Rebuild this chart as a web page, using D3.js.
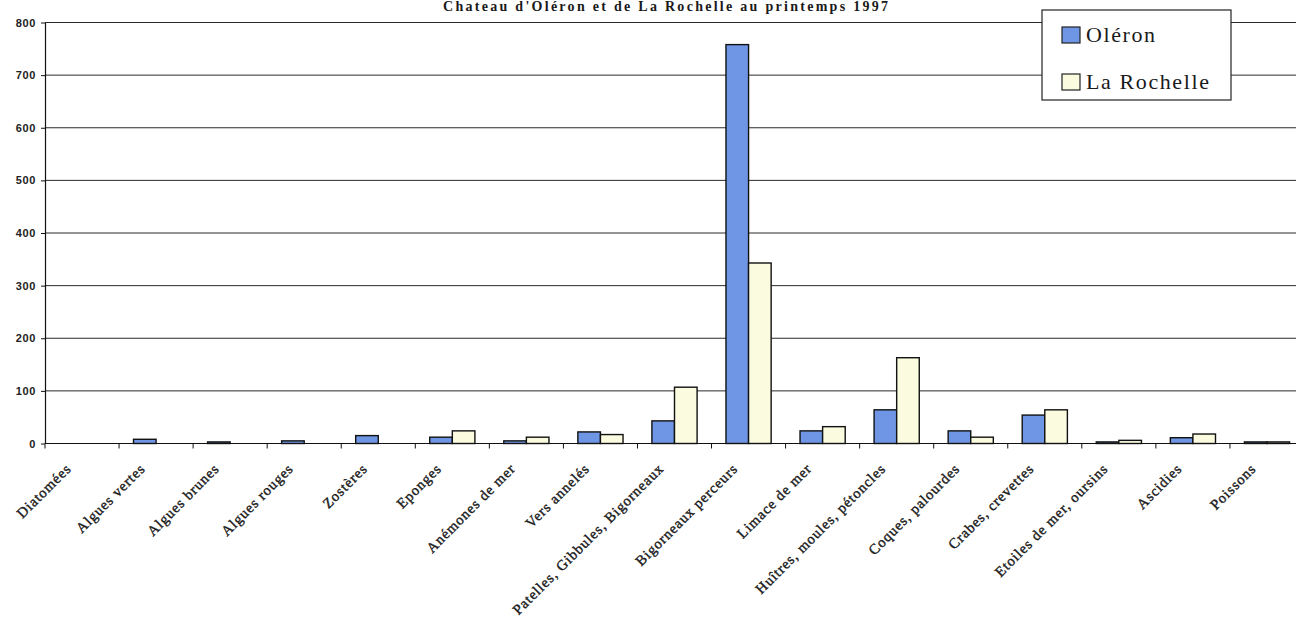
<!DOCTYPE html>
<html>
<head>
<meta charset="utf-8">
<script src="https://cdn.jsdelivr.net/npm/d3@7/dist/d3.min.js"></script>
<style>
  html, body { margin: 0; padding: 0; background: #fff; }
  svg { display: block; }
</style>
</head>
<body>
<svg id="chart" width="1296" height="624"></svg>
<script>
// Species groups observed on the shore
const categories = [
  "Diatomées", "Algues vertes", "Algues brunes", "Algues rouges", "Zostères",
  "Eponges", "Anémones de mer", "Vers annelés", "Patelles, Gibbules, Bigorneaux",
  "Bigorneaux perceurs", "Limace de mer", "Huîtres, moules, pétoncles",
  "Coques, palourdes", "Crabes, crevettes", "Etoiles de mer, oursins",
  "Ascidies", "Poissons"
];
const seriesNames = ["Oléron", "La Rochelle"];
const oleron   = [0, 8, 3, 5, 15, 12, 5, 22, 43, 758, 24, 64, 24, 54, 3, 11, 3];
const rochelle = [0, 0, 0, 0, 0, 24, 12, 17, 107, 343, 32, 163, 12, 64, 6, 18, 3];
const yTicks = [0, 100, 200, 300, 400, 500, 600, 700, 800];
const titleText = "Chateau d'Oléron et de La Rochelle au printemps 1997";

const colors = { "Oléron": "#6f96e4", "La Rochelle": "#fbfbe0" };
const values = { "Oléron": oleron, "La Rochelle": rochelle };

const svg = d3.select("#chart");

const x0 = d3.scaleBand().domain(categories).range([45, 1304])
  .paddingInner(0.39).paddingOuter(0.195);
const x1 = d3.scaleBand().domain(seriesNames).range([0, x0.bandwidth()]);
const xCat = d3.scalePoint().domain(categories).range([45, 1304]).padding(0.5);
const y = d3.scaleLinear().domain([0, 800]).range([443.5, 22.5]);

// Horizontal gridlines
svg.append("g")
  .selectAll("line")
  .data(yTicks.filter(t => t > 0))
  .join("line")
  .attr("x1", 45).attr("x2", 1296)
  .attr("y1", d => y(d)).attr("y2", d => y(d))
  .attr("stroke", "#2a2a2a").attr("stroke-width", 1);

// Bars
const groups = svg.append("g")
  .selectAll("g")
  .data(categories)
  .join("g")
  .attr("transform", d => `translate(${x0(d)},0)`);

groups.selectAll("rect")
  .data((c, i) => seriesNames.map(s => ({ s, v: values[s][i] })).filter(d => d.v > 0))
  .join("rect")
  .attr("x", d => x1(d.s))
  .attr("width", x1.bandwidth())
  .attr("y", d => y(d.v))
  .attr("height", d => y(0) - y(d.v))
  .attr("fill", d => colors[d.s])
  .attr("stroke", "#111")
  .attr("stroke-width", 1.4);

// Y axis
const yAxis = svg.append("g")
  .attr("transform", "translate(45,0)")
  .call(d3.axisLeft(y).tickValues(yTicks).tickSize(4).tickPadding(5).tickSizeOuter(0));
yAxis.select(".domain").attr("stroke", "#111").attr("stroke-width", 1.2);
yAxis.selectAll(".tick line").attr("stroke", "#111");
yAxis.selectAll("text")
  .attr("font-family", "Arial, 'Liberation Sans', sans-serif")
  .attr("font-weight", "bold")
  .attr("font-size", 11)
  .attr("letter-spacing", 0.6)
  .attr("fill", "#222");

// X axis
const xTickPos = categories.slice(1).map(c => x0(c) - x0.step() * x0.paddingInner() / 2);
const xAxis = svg.append("g").attr("transform", `translate(0,${y(0)})`);
xAxis.append("line")
  .attr("x1", 45).attr("x2", 1296).attr("y1", 0).attr("y2", 0)
  .attr("stroke", "#111").attr("stroke-width", 1.2);
xAxis.selectAll("line.tick")
  .data(xTickPos)
  .join("line")
  .attr("class", "tick")
  .attr("x1", d => d).attr("x2", d => d)
  .attr("y1", 0).attr("y2", 5)
  .attr("stroke", "#111");
xAxis.append("line")
  .attr("x1", 45).attr("x2", 45).attr("y1", 0).attr("y2", 5)
  .attr("stroke", "#111");

// Rotated category labels
svg.append("g")
  .selectAll("text")
  .data(categories)
  .join("text")
  .attr("transform", d => `translate(${xCat(d) - 10},${y(0) + 26}) rotate(-45)`)
  .attr("text-anchor", "end")
  .attr("font-family", "'Liberation Serif', 'Times New Roman', serif")
  .attr("font-size", 14.5)
  .attr("letter-spacing", 0.9)
  .attr("fill", "#1a1a1a")
  .attr("stroke", "#1a1a1a")
  .attr("stroke-width", 0.4)
  .text(d => d);

// Title
svg.append("text")
  .attr("x", 443).attr("y", 10.5)
  .attr("font-family", "'Liberation Serif', 'Times New Roman', serif")
  .attr("font-weight", "bold")
  .attr("font-size", 14)
  .attr("textLength", 445)
  .attr("lengthAdjust", "spacing")
  .attr("fill", "#1a1a1a")
  .text(titleText);

// Legend
const legend = svg.append("g");
legend.append("rect")
  .attr("x", 1042).attr("y", 10).attr("width", 189).attr("height", 90)
  .attr("fill", "#fff").attr("stroke", "#222").attr("stroke-width", 1.2);
const legendRows = legend.selectAll("g.row")
  .data(seriesNames)
  .join("g")
  .attr("class", "row")
  .attr("transform", (d, i) => `translate(1062,${27 + i * 47})`);
legendRows.append("rect")
  .attr("width", 18).attr("height", 16)
  .attr("fill", d => colors[d])
  .attr("stroke", "#222").attr("stroke-width", 1.2);
legendRows.append("text")
  .attr("x", 24).attr("y", 15)
  .attr("font-family", "'Liberation Serif', 'Times New Roman', serif")
  .attr("font-size", 22)
  .attr("letter-spacing", 1.6)
  .attr("fill", "#1a1a1a")
  .text(d => d);
</script>
</body>
</html>
